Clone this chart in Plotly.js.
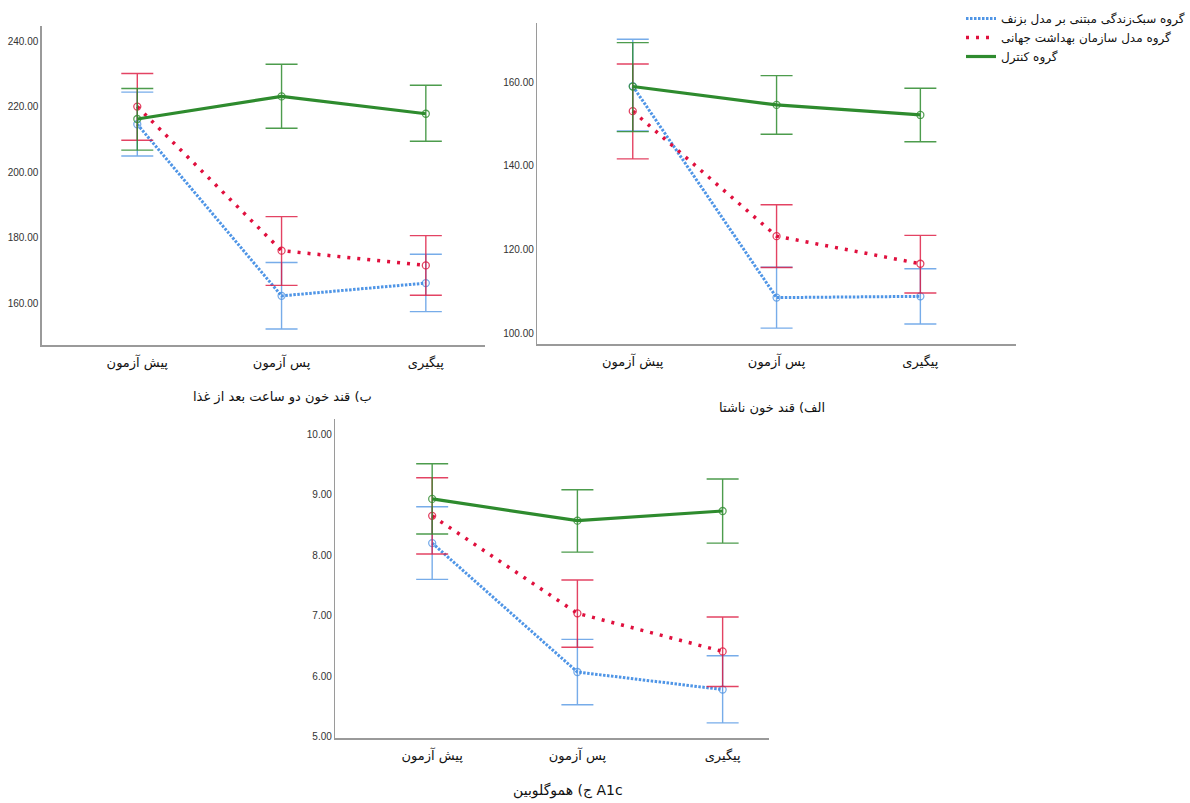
<!DOCTYPE html>
<html>
<head>
<meta charset="utf-8">
<script src="https://cdn.plot.ly/plotly-3.0.1.min.js"></script>
<style>html,body{margin:0;padding:0;background:#fff;}#chart{width:1190px;height:803px;}</style>
</head>
<body>
<div id="chart"></div>
<script>
// ---- data ----
const categories = ['پیش آزمون', 'پس آزمون', 'پیگیری'];
const groupNames = ['گروه سبک‌زندگی مبتنی بر مدل بزنف', 'گروه مدل سازمان بهداشت جهانی', 'گروه کنترل'];
const panelTitles = ['ب) قند خون دو ساعت بعد از غذا', 'الف) قند خون ناشتا', 'ج) هموگلوبین A1c'];

// Panel ب : two-hour post-meal glucose
const ppgMeanBasnef = [214.6, 162.2, 166.1];
const ppgUpperBasnef = [224.4, 172.4, 174.9];
const ppgLowerBasnef = [204.9, 152.1, 157.4];
const ppgMeanWho = [220.0, 176.0, 171.5];
const ppgUpperWho = [230.1, 186.4, 180.6];
const ppgLowerWho = [209.7, 165.4, 162.4];
const ppgMeanControl = [216.2, 223.1, 217.8];
const ppgUpperControl = [225.5, 232.9, 226.5];
const ppgLowerControl = [206.7, 213.4, 209.4];

// Panel الف : fasting glucose
const fbsMeanBasnef = [159.1, 108.5, 108.8];
const fbsUpperBasnef = [170.3, 115.8, 115.4];
const fbsLowerBasnef = [148.4, 101.2, 102.2];
const fbsMeanWho = [153.1, 123.2, 116.6];
const fbsUpperWho = [164.4, 130.7, 123.4];
const fbsLowerWho = [141.7, 115.7, 109.6];
const fbsMeanControl = [159.0, 154.6, 152.2];
const fbsUpperControl = [169.5, 161.6, 158.6];
const fbsLowerControl = [148.2, 147.6, 145.8];

// Panel ج : HbA1c
const a1cMeanBasnef = [8.20, 6.07, 5.78];
const a1cUpperBasnef = [8.80, 6.61, 6.34];
const a1cLowerBasnef = [7.60, 5.53, 5.23];
const a1cMeanWho = [8.65, 7.04, 6.41];
const a1cUpperWho = [9.28, 7.59, 6.98];
const a1cLowerWho = [8.02, 6.48, 5.83];
const a1cMeanControl = [8.93, 8.57, 8.73];
const a1cUpperControl = [9.51, 9.08, 9.26];
const a1cLowerControl = [8.35, 8.05, 8.20];

const ppgTicks = [160, 180, 200, 220, 240];
const fbsTicks = [100, 120, 140, 160];
const a1cTicks = [5, 6, 7, 8, 9, 10];

// ---- styles ----
const styles = [
  {line: {color: '#4f95e6', width: 3, dash: '2.5px,1.5px'}, err: 'rgba(74,144,226,0.75)', mk: 'rgba(74,144,226,0.75)'},
  {line: {color: '#e0103e', width: 3.5, dash: '3px,7px'}, err: 'rgba(220,20,60,0.8)', mk: 'rgba(220,20,60,0.8)'},
  {line: {color: '#2e8b2e', width: 3.2, dash: 'solid'}, err: 'rgba(46,139,46,0.85)', mk: 'rgba(46,139,46,0.8)'}
];

function makeTraces(means, uppers, lowers, xa, ya) {
  return means.map((m, i) => ({
    type: 'scatter', mode: 'lines+markers',
    x: categories, y: m,
    xaxis: xa, yaxis: ya,
    name: groupNames[i], legendgroup: 'g' + i, showlegend: false,
    line: styles[i].line,
    marker: {symbol: 'circle-open', size: 7, color: styles[i].mk, line: {width: 1.3, color: styles[i].mk}},
    error_y: {
      type: 'data', symmetric: false,
      array: uppers[i].map((u, k) => u - m[k]),
      arrayminus: lowers[i].map((l, k) => m[k] - l),
      color: styles[i].err, thickness: 1.4, width: 16
    },
    hoverinfo: 'skip'
  }));
}

// legend entries (lines only, no data points)
const legendTraces = groupNames.map((n, i) => ({
  type: 'scatter', mode: 'lines', x: [null], y: [null], xaxis: 'x2', yaxis: 'y2',
  name: n, legendgroup: 'g' + i, showlegend: true, line: styles[i].line, hoverinfo: 'skip'
}));

const traces = [].concat(
  makeTraces([fbsMeanBasnef, fbsMeanWho, fbsMeanControl], [fbsUpperBasnef, fbsUpperWho, fbsUpperControl], [fbsLowerBasnef, fbsLowerWho, fbsLowerControl], 'x2', 'y2'),
  makeTraces([ppgMeanBasnef, ppgMeanWho, ppgMeanControl], [ppgUpperBasnef, ppgUpperWho, ppgUpperControl], [ppgLowerBasnef, ppgLowerWho, ppgLowerControl], 'x', 'y'),
  makeTraces([a1cMeanBasnef, a1cMeanWho, a1cMeanControl], [a1cUpperBasnef, a1cUpperWho, a1cUpperControl], [a1cLowerBasnef, a1cLowerWho, a1cLowerControl], 'x3', 'y3'),
  legendTraces
);

const W = 1190, H = 803;
const px = v => v / W, py = v => 1 - v / H;

const xCommon = {
  type: 'category', categoryorder: 'array', categoryarray: categories,
  showline: true, linecolor: '#9a9a9a', linewidth: 1.5, showgrid: false, zeroline: false,
  ticks: '', ticklabelstandoff: 5,
  tickfont: {family: 'DejaVu Sans, sans-serif', size: 13, color: '#111'}, fixedrange: true
};
const yCommon = {
  showline: true, linecolor: '#9a9a9a', linewidth: 1.5, showgrid: false, zeroline: false,
  ticks: '', tickformat: '.2f', tickmode: 'array',
  tickfont: {family: 'Liberation Sans, Arial, sans-serif', size: 10, color: '#333'}, fixedrange: true
};

const layout = {
  width: W, height: H,
  margin: {l: 0, r: 0, t: 0, b: 0},
  paper_bgcolor: '#fff', plot_bgcolor: '#fff',
  showlegend: true,
  legend: {
    x: px(966), y: py(4), xanchor: 'left', yanchor: 'top',
    font: {family: 'DejaVu Sans, sans-serif', size: 12, color: '#111'},
    bgcolor: 'rgba(0,0,0,0)', tracegroupgap: 0, itemwidth: 30
  },
  xaxis: Object.assign({}, xCommon, {domain: [px(42), px(487)], range: [-0.662, 2.407], anchor: 'y'}),
  yaxis: Object.assign({}, yCommon, {domain: [py(345), py(26)], range: [147.2, 244.6], tickvals: ppgTicks, anchor: 'x'}),
  xaxis2: Object.assign({}, xCommon, {domain: [px(540), px(1021)], range: [-0.664, 2.664], anchor: 'y2'}),
  yaxis2: Object.assign({}, yCommon, {domain: [py(344), py(23)], range: [97.4, 174.2], tickvals: fbsTicks, anchor: 'x2'}),
  xaxis3: Object.assign({}, xCommon, {domain: [px(337), px(773)], range: [-0.667, 2.32], anchor: 'y3'}),
  yaxis3: Object.assign({}, yCommon, {domain: [py(738), py(419)], range: [4.98, 10.25], tickvals: a1cTicks, anchor: 'x3'}),
  annotations: [
    {text: panelTitles[0], xref: 'paper', yref: 'paper', x: px(284), y: py(397), showarrow: false, xanchor: 'center', yanchor: 'middle', font: {family: 'DejaVu Sans, sans-serif', size: 13, color: '#111'}},
    {text: panelTitles[1], xref: 'paper', yref: 'paper', x: px(776), y: py(408), showarrow: false, xanchor: 'center', yanchor: 'middle', font: {family: 'DejaVu Sans, sans-serif', size: 13, color: '#111'}},
    {text: panelTitles[2], xref: 'paper', yref: 'paper', x: px(571), y: py(790), showarrow: false, xanchor: 'center', yanchor: 'middle', font: {family: 'DejaVu Sans, sans-serif', size: 14, color: '#111'}}
  ]
};

Plotly.newPlot('chart', traces, layout, {displayModeBar: false, staticPlot: true});
</script>
</body>
</html>
